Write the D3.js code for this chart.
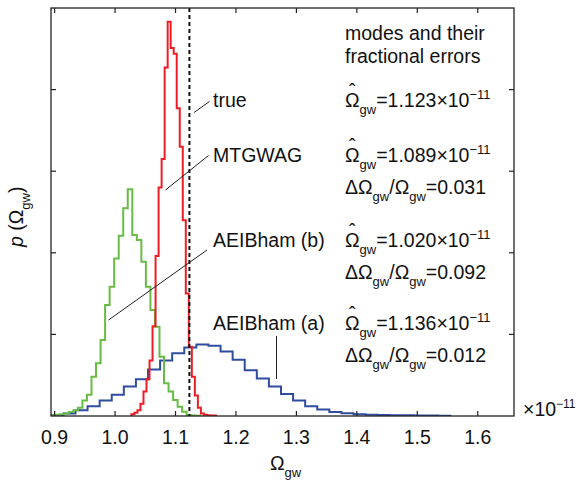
<!DOCTYPE html>
<html>
<head>
<meta charset="utf-8">
<title>p(Omega_gw) histograms</title>
<script src="https://d3js.org/d3.v7.min.js"></script>
<style>
  body { margin: 0; background: #fff; }
  svg text { font-family: "Liberation Sans", Arial, Helvetica, sans-serif; fill: #111; }
</style>
</head>
<body>
<div id="chart"></div>
<script>
// axis ticks
var xTicks = [0.9, 1.0, 1.1, 1.2, 1.3, 1.4, 1.5, 1.6];
var xTickLabels = ["0.9", "1.0", "1.1", "1.2", "1.3", "1.4", "1.5", "1.6"];
var yTicks = [1, 2, 3, 4];
var trueValue = 1.123;

// AEIBham (a) - blue
var blueStart = 0.8945, blueWidth = 0.02;
var blueHeights = [0.012, 0.03, 0.07, 0.12, 0.19, 0.26, 0.36, 0.45, 0.57, 0.68, 0.77, 0.84, 0.875,
  0.86, 0.79, 0.69, 0.56, 0.46, 0.36, 0.27, 0.19, 0.12, 0.08, 0.05, 0.035, 0.02, 0.015, 0.012,
  0.01, 0.008, 0.006, 0.005, 0.004];

// AEIBham (b) - green
var greenStart = 0.8935, greenWidth = 0.0075;
var greenHeights = [0.01, 0.015, 0.02, 0.03, 0.05, 0.07, 0.10, 0.19, 0.26, 0.48, 0.645, 0.93,
  1.36, 1.585, 1.93, 2.21, 2.545, 2.778, 2.218, 2.157, 1.89, 1.585, 1.30, 1.094, 0.727, 0.40,
  0.30, 0.196, 0.114, 0.053, 0.012, 0.005, 0.003];

// MTGWAG - red
var redStart = 1.027, redWidth = 0.005;
var redHeights = [0.02, 0.04, 0.07, 0.15, 0.3, 0.45, 0.68, 1.1, 1.96, 2.8, 3.15, 4.27, 4.83,
  4.51, 4.44, 3.77, 3.3, 2.4, 1.5, 0.85, 0.48, 0.25, 0.1, 0.03, 0.015, 0.01, 0.005, 0.005];

// annotations
var labels = ["true", "MTGWAG", "AEIBham (b)", "AEIBham (a)"];
var modes = ["1.123", "1.089", "1.020", "1.136"];
var fracErrors = [null, "0.031", "0.092", "0.012"];

var width = 578, height = 483;
var margin = {top: 8, right: 64, bottom: 67, left: 51};
var fs = 19.5;

var svg = d3.select("#chart").append("svg")
  .attr("width", width)
  .attr("height", height);

var x = d3.scaleLinear().domain([0.894, 1.66]).range([margin.left, width - margin.right]);
var y = d3.scaleLinear().domain([0, 5]).range([height - margin.bottom, margin.top]);

svg.append("clipPath").attr("id", "plotclip")
  .append("rect")
  .attr("x", margin.left).attr("y", margin.top)
  .attr("width", width - margin.left - margin.right)
  .attr("height", height - margin.top - margin.bottom);

function stepPoints(start, w, heights) {
  var pts = [[start, 0]];
  heights.forEach(function(h, i) {
    pts.push([start + i * w, h]);
    pts.push([start + (i + 1) * w, h]);
  });
  pts.push([start + heights.length * w, 0]);
  return pts;
}

var line = d3.line()
  .x(function(d) { return x(d[0]); })
  .y(function(d) { return y(d[1]); });

var series = [
  {pts: stepPoints(blueStart, blueWidth, blueHeights), color: "#2f4d9f"},
  {pts: stepPoints(greenStart, greenWidth, greenHeights), color: "#67bc45"},
  {pts: stepPoints(redStart, redWidth, redHeights), color: "#ee1d25"}
];

var plot = svg.append("g").attr("clip-path", "url(#plotclip)");
plot.selectAll("path.hist")
  .data(series)
  .enter()
  .append("path")
  .attr("class", "hist")
  .attr("d", function(d) { return line(d.pts); })
  .attr("fill", "none")
  .attr("stroke", function(d) { return d.color; })
  .attr("stroke-width", 2)
  .attr("stroke-linejoin", "miter");

// true value
plot.append("line")
  .attr("x1", x(trueValue)).attr("x2", x(trueValue))
  .attr("y1", y(5)).attr("y2", y(0))
  .attr("stroke", "#111")
  .attr("stroke-width", 2)
  .attr("stroke-dasharray", "4,3");

// frame and inward ticks
var x0 = margin.left, x1 = width - margin.right, y0 = height - margin.bottom, y1 = margin.top;
svg.append("rect")
  .attr("x", x0).attr("y", y1)
  .attr("width", x1 - x0).attr("height", y0 - y1)
  .attr("fill", "none").attr("stroke", "#222").attr("stroke-width", 1.3);

var tl = 5;
xTicks.forEach(function(t) {
  svg.append("line").attr("x1", x(t)).attr("x2", x(t)).attr("y1", y0).attr("y2", y0 - tl)
    .attr("stroke", "#222").attr("stroke-width", 1.2);
  svg.append("line").attr("x1", x(t)).attr("x2", x(t)).attr("y1", y1).attr("y2", y1 + tl)
    .attr("stroke", "#222").attr("stroke-width", 1.2);
});
yTicks.forEach(function(t) {
  svg.append("line").attr("x1", x0).attr("x2", x0 + tl).attr("y1", y(t)).attr("y2", y(t))
    .attr("stroke", "#222").attr("stroke-width", 1.2);
  svg.append("line").attr("x1", x1).attr("x2", x1 - tl).attr("y1", y(t)).attr("y2", y(t))
    .attr("stroke", "#222").attr("stroke-width", 1.2);
});

svg.selectAll("text.xtick")
  .data(xTicks)
  .enter()
  .append("text")
  .attr("class", "xtick")
  .attr("x", function(d) { return x(d); })
  .attr("y", 444)
  .attr("text-anchor", "middle")
  .style("font-size", fs + "px")
  .text(function(d, i) { return xTickLabels[i]; });

// rich text helper: parts = [[text, "sub"|"sup"|"", italic], ...]
function rich(sel, parts, subSize) {
  var cur = 0;
  parts.forEach(function(p) {
    var target = p[1] === "sub" ? 7 : (p[1] === "sup" ? -8 : 0);
    var ts = sel.append("tspan").attr("dy", target - cur).text(p[0]);
    if (p[1] === "sub" || p[1] === "sup") ts.style("font-size", subSize + "px");
    if (p[2]) ts.style("font-style", "italic");
    cur = target;
  });
  return sel;
}

// x10^-11
rich(svg.append("text").attr("x", 523).attr("y", 416).style("font-size", fs + "px"),
  [["×10", ""], ["−11", "sup"]], 12);

// x label
rich(svg.append("text").attr("x", 270).attr("y", 470).style("font-size", fs + "px"),
  [["Ω", ""], ["gw", "sub"]], 13);

// y label
rich(svg.append("text")
    .attr("transform", "translate(23,247) rotate(-90)")
    .style("font-size", fs + "px"),
  [["p", "", true], [" (Ω", ""], ["gw", "sub"], [")", ""]], 13);

// leader lines
var leaders = [
  [194, 112.5, 209.5, 101.5],
  [165.5, 190, 208.5, 155.5],
  [108.5, 320, 207, 250],
  [276.5, 336, 276.5, 379]
];
svg.selectAll("line.leader")
  .data(leaders)
  .enter()
  .append("line")
  .attr("class", "leader")
  .attr("x1", function(d) { return d[0]; })
  .attr("y1", function(d) { return d[1]; })
  .attr("x2", function(d) { return d[2]; })
  .attr("y2", function(d) { return d[3]; })
  .attr("stroke", "#222")
  .attr("stroke-width", 1);

var labelY = [106.7, 161.7, 246.7, 330];
labels.forEach(function(l, i) {
  svg.append("text").attr("x", 213).attr("y", labelY[i])
    .style("font-size", fs + "px").text(l);
});

// right column
var colX = 345;
svg.append("text").attr("x", colX).attr("y", 40).style("font-size", fs + "px").text("modes and their");
svg.append("text").attr("x", colX).attr("y", 63).style("font-size", fs + "px").text("fractional errors");

modes.forEach(function(m, i) {
  var by = labelY[i];
  var t = rich(svg.append("text").attr("x", colX).attr("y", by).style("font-size", fs + "px"),
    [["Ω", ""], ["gw", "sub"], ["=" + m + "×10", ""], ["−11", "sup"]], 13);
  var w = t.node().getSubStringLength(0, 1);
  // hat over the Omega, kept in the same text element
  t.append("tspan")
    .attr("x", colX + w / 2)
    .attr("y", by - 9)
    .attr("text-anchor", "middle")
    .style("font-size", fs + "px")
    .text("ˆ");
  if (fracErrors[i]) {
    rich(svg.append("text").attr("x", colX).attr("y", by + 32).style("font-size", fs + "px"),
      [["ΔΩ", ""], ["gw", "sub"], ["/Ω", ""], ["gw", "sub"], ["=" + fracErrors[i], ""]], 13);
  }
});
</script>
</body>
</html>
